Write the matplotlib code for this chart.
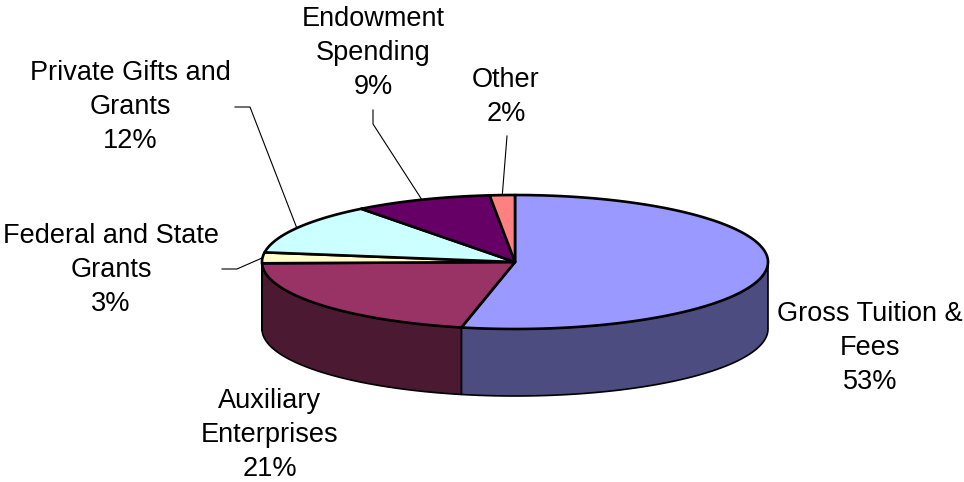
import numpy as np
import matplotlib.pyplot as plt
from matplotlib.patches import Polygon

plt.rcParams['font.family'] = ['Liberation Sans', 'DejaVu Sans']

# data (share of revenue, %), clockwise from 12 o'clock
names = ['Gross Tuition &\nFees', 'Auxiliary\nEnterprises', 'Federal and State\nGrants',
         'Private Gifts and\nGrants', 'Endowment\nSpending', 'Other']
shares = [53.4, 21.3, 2.6, 12.3, 8.8, 1.6]
top_colors = ['#9999FF', '#993366', '#FFFFCC', '#CCFFFF', '#660066', '#FF8080']
side_colors = ['#4C4C80', '#4C1933', '#808066', '#668080', '#330033', '#804040']

# label centres and leader elbows (pixel layout)
label_pos = [(870, 348), (270, 435), (111, 270), (130, 107), (373, 53), (506, 97)]
leader_start = [None, None, [(222, 269), (237, 269)], [(235, 107), (250, 107)],
                [(373, 110), (373, 124)], [(507, 136)]]

# pie geometry in pixels
cx, cy = 515, 262
rx, ry = 253, 67
depth = 67

fig = plt.figure(figsize=(9.64, 4.82), dpi=100)
ax = fig.add_axes([0, 0, 1, 1])
ax.set_xlim(0, 964)
ax.set_ylim(482, 0)
ax.axis('off')


def rim(t, dz=0):
    return cx + rx * np.sin(t), cy - ry * np.cos(t) + dz


fracs = np.array(shares) / sum(shares)
edges = np.concatenate([[0], np.cumsum(fracs)]) * 2 * np.pi

# side walls (only the front half is visible)
for i in range(len(shares)):
    a0 = max(edges[i], np.pi / 2)
    a1 = min(edges[i + 1], 3 * np.pi / 2)
    if a1 <= a0:
        continue
    t = np.linspace(a0, a1, 100)
    xt, yt = rim(t)
    xb, yb = rim(t[::-1], depth)
    pts = np.column_stack([np.concatenate([xt, xb]), np.concatenate([yt, yb])])
    ax.add_patch(Polygon(pts, closed=True, facecolor=side_colors[i],
                         edgecolor='black', lw=1.2, joinstyle='round'))

# top faces
for i in range(len(shares)):
    t = np.linspace(edges[i], edges[i + 1], 200)
    xt, yt = rim(t)
    pts = np.column_stack([np.concatenate([[cx], xt]), np.concatenate([[cy], yt])])
    ax.add_patch(Polygon(pts, closed=True, facecolor=top_colors[i],
                         edgecolor='black', lw=1.9, joinstyle='round'))

# labels and leader lines
for i in range(len(shares)):
    txt = f"{names[i]}\n{round(shares[i])}%"
    ax.text(label_pos[i][0], label_pos[i][1], txt, ha='center', va='center',
            fontsize=19.5, linespacing=1.38, color='black')
    if leader_start[i] is not None:
        mid = (edges[i] + edges[i + 1]) / 2
        ex, ey = rim(mid)
        xs = [p[0] for p in leader_start[i]] + [ex]
        ys = [p[1] for p in leader_start[i]] + [ey]
        ax.plot(xs, ys, color='black', lw=0.8)

fig.savefig('out.png', dpi=100)
